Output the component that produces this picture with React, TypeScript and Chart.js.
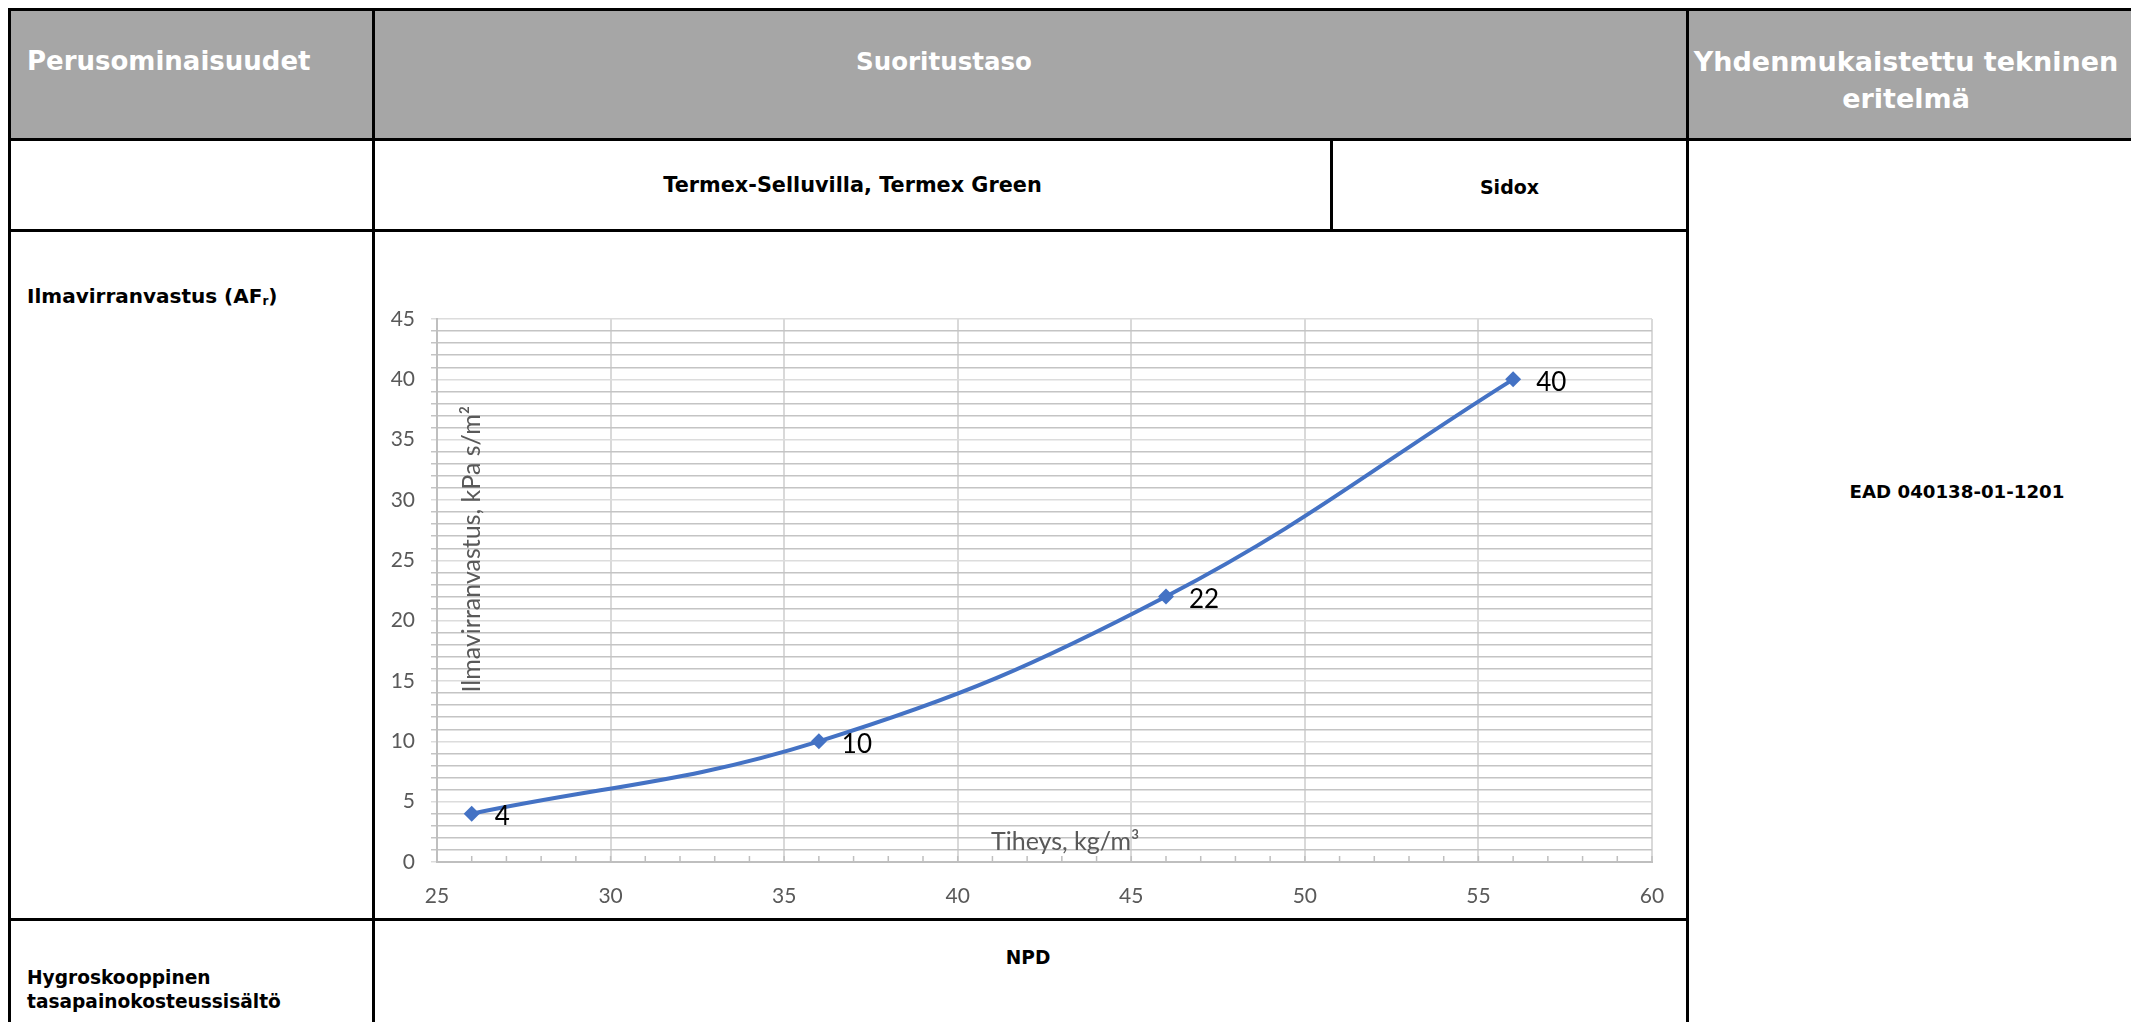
import React, { useEffect, useRef } from "react";
import { Chart, registerables } from "chart.js";

Chart.register(...registerables);

// ---- data ----
const densities = [26, 36, 46, 56];
const airflowResistance = [4, 10, 22, 40];
const xTickLabels = [25, 30, 35, 40, 45, 50, 55, 60];
const yTickLabels = [0, 5, 10, 15, 20, 25, 30, 35, 40, 45];
const xAxisTitle = "Tiheys, kg/m³";
const yAxisTitle = "Ilmavirranvastus, kPa s/m²";

const headerCols = ["Perusominaisuudet", "Suoritustaso", "Yhdenmukaistettu tekninen", "eritelmä"];
const productNames = ["Termex-Selluvilla, Termex Green", "Sidox"];
const standardRef = "EAD 040138-01-1201";
const secondProperty = ["Hygroskooppinen", "tasapainokosteussisältö"];
const secondValue = "NPD";

const BLUE = "#4472C4";
const TICK_GRAY = "#595959";

const minorTicksPlugin = {
  id: "minorTicks",
  beforeDatasetsDraw(chart: any) {
    const { ctx, chartArea, scales } = chart;
    const xs = scales.x;
    ctx.save();
    ctx.strokeStyle = "#bfbfbf";
    ctx.lineWidth = 1.5;
    for (let v = xTickLabels[0]; v <= xTickLabels[xTickLabels.length - 1]; v++) {
      const px = xs.getPixelForValue(v);
      ctx.beginPath();
      ctx.moveTo(px, chartArea.bottom);
      ctx.lineTo(px, chartArea.bottom - 6);
      ctx.stroke();
    }
    ctx.restore();
  },
};

const titlesPlugin = {
  id: "insideTitles",
  afterDraw(chart: any) {
    const { ctx, chartArea } = chart;
    const w = chartArea.right - chartArea.left;
    const h = chartArea.bottom - chartArea.top;
    ctx.save();
    ctx.fillStyle = TICK_GRAY;
    ctx.font = "25px Lato";
    ctx.textAlign = "center";
    ctx.textBaseline = "middle";
    ctx.fillText(xAxisTitle, chartArea.left + w * 0.517, chartArea.bottom - 20);
    ctx.translate(chartArea.left + 35, chartArea.top + h * 0.424);
    ctx.rotate(-Math.PI / 2);
    ctx.fillText(yAxisTitle, 0, 0);
    ctx.restore();
  },
};

const pointLabelsPlugin = {
  id: "pointLabels",
  afterDatasetsDraw(chart: any) {
    const { ctx } = chart;
    const meta = chart.getDatasetMeta(0);
    ctx.save();
    ctx.fillStyle = "#000000";
    ctx.font = "26px Lato";
    ctx.textAlign = "left";
    ctx.textBaseline = "middle";
    meta.data.forEach((pt: any, i: number) => {
      ctx.fillText(String(airflowResistance[i]), pt.x + 23, pt.y + 3);
    });
    ctx.restore();
  },
};

function AirflowChart() {
  const ref = useRef<HTMLCanvasElement | null>(null);
  useEffect(() => {
    if (!ref.current) return;
    const chart = new Chart(ref.current, {
      type: "scatter",
      data: {
        datasets: [
          {
            data: densities.map((x, i) => ({ x, y: airflowResistance[i] })),
            showLine: true,
            borderColor: BLUE,
            borderWidth: 4,
            tension: 0.4,
            pointStyle: "rectRot",
            pointRadius: 8,
            pointHoverRadius: 8,
            pointBackgroundColor: BLUE,
            pointBorderColor: BLUE,
            pointBorderWidth: 0,
          },
        ],
      },
      options: {
        animation: false,
        responsive: true,
        maintainAspectRatio: false,
        layout: { padding: { left: 0, right: 28, top: 79, bottom: 0 } },
        plugins: { legend: { display: false }, tooltip: { enabled: false } },
        scales: {
          x: {
            type: "linear",
            min: xTickLabels[0],
            max: xTickLabels[xTickLabels.length - 1],
            afterFit: (s: any) => {
              s.height = 53;
              s.paddingLeft = 0;
              s.paddingRight = 0;
            },
            ticks: {
              stepSize: xTickLabels[1] - xTickLabels[0],
              autoSkip: false,
              color: TICK_GRAY,
              font: { family: "Lato", size: 21 },
              padding: 22,
              maxRotation: 0,
            },
            grid: { color: "#d9d9d9", lineWidth: 2, drawTicks: false },
            border: { color: "#bfbfbf", width: 2 },
          },
          y: {
            type: "linear",
            min: yTickLabels[0],
            max: yTickLabels[yTickLabels.length - 1],
            afterFit: (s: any) => {
              s.width = 57;
              s.paddingTop = 0;
              s.paddingBottom = 0;
            },
            ticks: {
              stepSize: 1,
              autoSkip: false,
              color: TICK_GRAY,
              font: { family: "Lato", size: 21 },
              padding: 16,
              callback: (v: any) => (yTickLabels.includes(Number(v)) ? String(v) : ""),
            },
            grid: {
              color: (c: any) =>
                c.tick && yTickLabels.includes(c.tick.value) ? "#dcdcdc" : "#c4c4c4",
              lineWidth: 1.5,
              drawTicks: true,
              tickLength: 6,
            },
            border: { color: "#bfbfbf", width: 2 },
          },
        },
      },
      plugins: [minorTicksPlugin, titlesPlugin, pointLabelsPlugin],
    });
    return () => chart.destroy();
  }, []);
  return <canvas ref={ref} />;
}

const LINE = "#000000";
const FONT = "'DejaVu Sans', Verdana, sans-serif";

function Line({ x, y, w, h }: { x: number; y: number; w: number; h: number }) {
  return <div style={{ position: "absolute", left: x, top: y, width: w, height: h, background: LINE }} />;
}

// cy = centre of the FIRST line of text
function Text({ children, left, width, cy, size, lh, color = "#000", align = "left" }: any) {
  return (
    <div
      style={{
        position: "absolute",
        left,
        width,
        top: cy - lh / 2,
        fontFamily: FONT,
        fontWeight: "bold",
        fontSize: size,
        lineHeight: lh + "px",
        color,
        textAlign: align,
        whiteSpace: "nowrap",
      }}
    >
      {children}
    </div>
  );
}

export default function App() {
  const W = 2131;
  const H = 1022;
  return (
    <div
      style={{
        position: "fixed",
        left: 0,
        top: 0,
        width: W,
        height: H,
        overflow: "hidden",
        background: "#ffffff",
      }}
    >
      {/* header fill */}
      <div style={{ position: "absolute", left: 10, top: 10, width: W, height: 129, background: "#a6a6a6" }} />

      {/* chart */}
      <div style={{ position: "absolute", left: 380, top: 240, width: 1300, height: 675 }}>
        <AirflowChart />
      </div>

      {/* borders */}
      <Line x={8} y={8} w={W} h={3} />
      <Line x={8} y={8} w={3} h={H} />
      <Line x={8} y={138} w={W} h={3} />
      <Line x={8} y={229} w={1681} h={3} />
      <Line x={8} y={918} w={1681} h={3} />
      <Line x={372} y={8} w={3} h={H} />
      <Line x={1686} y={8} w={3} h={H} />
      <Line x={1330} y={138} w={3} h={93} />

      {/* header texts */}
      <Text left={27} cy={61} size={26} lh={37} color="#ffffff">
        {headerCols[0]}
      </Text>
      <Text left={744} width={400} align="center" cy={61} size={24.5} lh={37} color="#ffffff">
        {headerCols[1]}
      </Text>
      <Text left={1689} width={434} align="center" cy={61} size={27} lh={37} color="#ffffff">
        {headerCols[2]}
        <br />
        {headerCols[3]}
      </Text>

      {/* row 2 */}
      <Text left={375} width={955} align="center" cy={185} size={20.8} lh={24}>
        {productNames[0]}
      </Text>
      <Text left={1333} width={353} align="center" cy={187} size={19} lh={24}>
        {productNames[1]}
      </Text>

      {/* row 3 */}
      <Text left={27} cy={296} size={20} lh={24}>
        Ilmavirranvastus (AF<sub style={{ fontSize: "0.6em", verticalAlign: "-0.15em" }}>r</sub>)
      </Text>
      <Text left={1757} width={400} align="center" cy={492} size={18.2} lh={24}>
        {standardRef}
      </Text>

      {/* row 4 */}
      <Text left={828} width={400} align="center" cy={958} size={18.6} lh={24}>
        {secondValue}
      </Text>
      <Text left={27} cy={978} size={18.6} lh={24}>
        {secondProperty[0]}
        <br />
        {secondProperty[1]}
      </Text>
    </div>
  );
}
